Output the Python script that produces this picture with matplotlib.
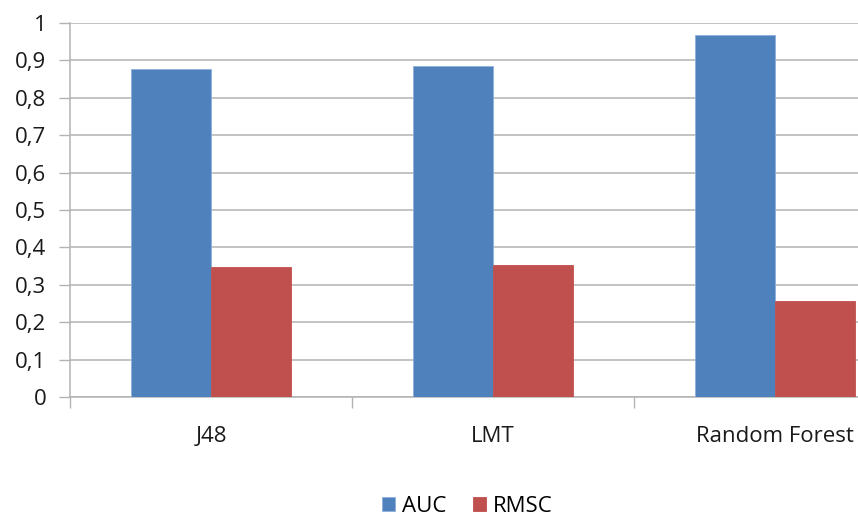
import numpy as np
import matplotlib.pyplot as plt
from matplotlib.ticker import FixedLocator

plt.rcParams['font.family'] = ['Open Sans', 'DejaVu Sans']

classifiers = ['J48', 'LMT', 'Random Forest']
auc = [0.876, 0.886, 0.968]
rmsc = [0.347, 0.353, 0.256]
yticks = [0, 0.1, 0.2, 0.3, 0.4, 0.5, 0.6, 0.7, 0.8, 0.9, 1.0]
ytick_labels = ['0', '0,1', '0,2', '0,3', '0,4', '0,5', '0,6', '0,7', '0,8', '0,9', '1']

blue = '#4F81BD'
red = '#C0504D'
grid = '#B3B3B3'
text_col = '#1a1a1a'
fs = 16

W, H = 858, 515
fig = plt.figure(figsize=(W/100, H/100), dpi=100)
# axes run on past the right edge, so the last category is cut off
left, right, top, bottom = 70, 916, 23, 397
ax = fig.add_axes([left/W, 1 - bottom/H, (right-left)/W, (bottom-top)/H])

x = np.arange(len(classifiers))
w = 0.285
ax.bar(x - w/2, auc, w, color=blue, edgecolor='#8DB0DC', linewidth=0.6, label='AUC', zorder=3)
ax.bar(x + w/2, rmsc, w, color=red, edgecolor='#C0504D', linewidth=0.6, label='RMSC', zorder=3)

ax.set_xlim(-0.5, len(classifiers) - 0.5)
ax.set_ylim(0, 1)
ax.set_yticks(yticks)
ax.set_yticklabels(ytick_labels, fontsize=fs, color=text_col)
ax.yaxis.grid(True, color=grid, linewidth=1.1, zorder=0)
ax.tick_params(axis='y', length=8, width=1, color=grid, pad=9)

ax.set_xticks(x)
ax.set_xticklabels(classifiers, fontsize=fs, color=text_col)
ax.tick_params(axis='x', length=0, pad=21)
ax.xaxis.set_minor_locator(FixedLocator(np.arange(-0.5, len(classifiers), 1)))
ax.tick_params(axis='x', which='minor', length=8, width=1, color=grid)

for s in ['top', 'right']:
    ax.spines[s].set_visible(False)
ax.spines['left'].set_color(grid)
ax.spines['bottom'].set_color(grid)
ax.spines['left'].set_linewidth(1.1)
ax.spines['bottom'].set_linewidth(1.1)

fig.legend(loc='center', bbox_to_anchor=(467/W, 1 - 506/H), ncol=2, frameon=False,
           fontsize=fs, handlelength=0.6, handleheight=0.6, handletextpad=0.3,
           columnspacing=1.2)

fig.savefig('out.png', dpi=100)
